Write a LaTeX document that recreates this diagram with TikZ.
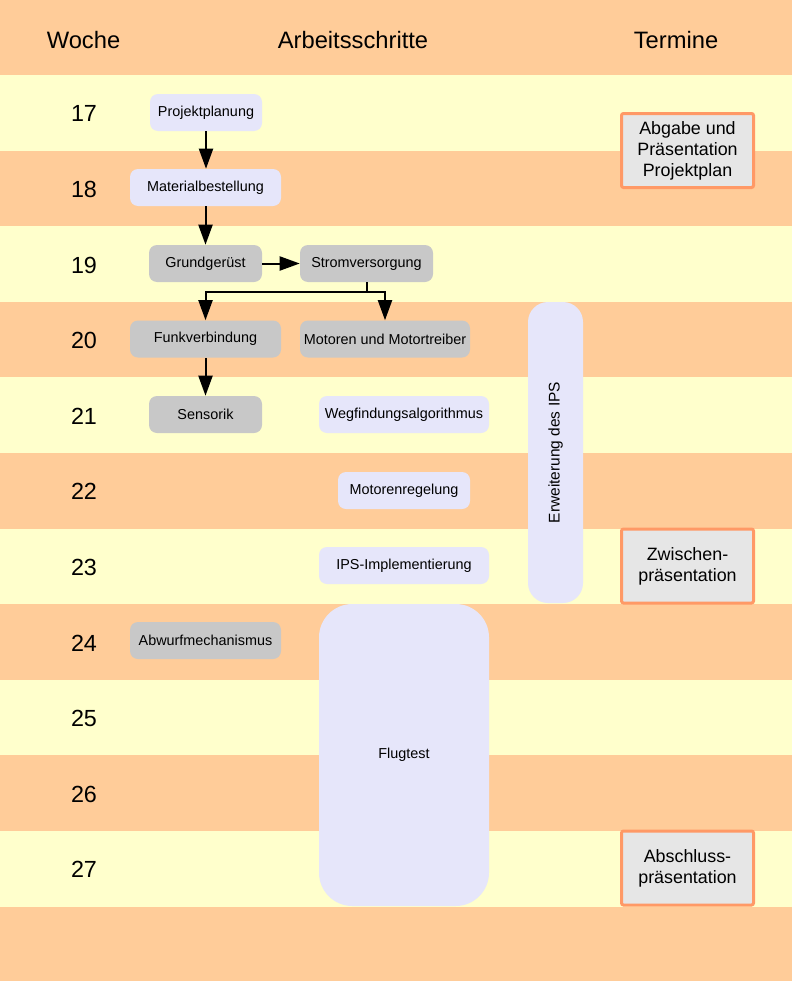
\documentclass[tikz,border=0pt]{standalone}
\usepackage{fontspec}
\setmainfont{Liberation Sans}
\usetikzlibrary{arrows.meta, positioning}
\definecolor{bandorange}{RGB}{255,204,153}
\definecolor{bandyellow}{RGB}{255,255,204}
\definecolor{tasklavender}{RGB}{230,230,250}
\definecolor{taskgray}{RGB}{200,200,200}
\definecolor{termgray}{RGB}{230,230,230}
\definecolor{termborder}{RGB}{255,153,102}

\begin{document}
\begin{tikzpicture}[
    x=0.75pt, y=-0.75pt,
    head/.style={font=\fontsize{17.8}{20}\selectfont},
    week/.style={font=\fontsize{17.5}{20}\selectfont},
    boxw/.style={minimum width=#1*0.75pt},
    box/.style={rounded corners=6pt, minimum height=27.75pt, inner sep=2pt,
                font=\fontsize{10.8}{13}\selectfont},
    openbox/.style={box, fill=tasklavender},
    donebox/.style={box, fill=taskgray},
    termbox/.style={draw=termborder, line width=2.25pt, fill=termgray,
                    rounded corners=1.5pt, minimum width=99pt,
                    minimum height=55.5pt, align=center,
                    font=\fontsize{13.4}{15.75}\selectfont},
    arrow/.style={-{Triangle[length=15pt, width=10.5pt]}, line width=1.5pt},
]

% ── Background bands ───────────────────────────────────────────────────
\fill[bandorange] (0,0) rectangle (792,981);
\useasboundingbox (0,0) rectangle (792,981);
\foreach \i in {0,2,...,10}
    \fill[bandyellow] (0,{75+75.6*\i}) rectangle (792,{75+75.6*(\i+1)});

% ── Header ─────────────────────────────────────────────────────────────
\node[head] (hwoche)   at (83.5,40)  {Woche};
\node[head] (harbeit)  at (353,40) {Arbeitsschritte};
\node[head] (htermine) at (676,40) {Termine};

% ── Week numbers ───────────────────────────────────────────────────────
\foreach \w [count=\i from 0] in {17,...,27}
    \node[week] (w\w) at (84,{75+75.6*\i+38.8}) {\w};

% ── Work steps ─────────────────────────────────────────────────────────
\node[openbox, boxw=112] (plan)    at (206,112.5) {Projektplanung};
\node[openbox, boxw=151] (mat)     at (205.5,187.5) {Materialbestellung};
\node[donebox, boxw=113] (gerust)  at (205.5,263.5) {Grundgerüst};
\node[donebox, boxw=133] (strom)   at (366.5,263.5) {Stromversorgung};
\node[donebox, boxw=151] (funk)    at (205.5,339) {Funkverbindung};
\node[donebox, boxw=170] (motor)   at (385,339) {Motoren und Motortreiber};
\node[donebox, boxw=113] (sensor)  at (205.5,414.5) {Sensorik};
\node[openbox, boxw=170] (weg)     at (404,414.5) {Wegfindungsalgorithmus};
\node[openbox, boxw=132] (regel)   at (404,490.5) {Motorenregelung};
\node[openbox, boxw=170] (ips)     at (404,565.5) {IPS-Implementierung};
\node[donebox, boxw=151] (abwurf)  at (205.5,640.5) {Abwurfmechanismus};

% long tasks
\node[openbox, rotate=90, minimum width=225.75pt, minimum height=41.25pt,
      rounded corners=15pt, font=\fontsize{11.6}{14}\selectfont]
      (erweit) at (555.5,452.5) {Erweiterung des IPS};
\node[openbox, minimum width=127.5pt, minimum height=226.5pt,
      rounded corners=25pt] (flug) at (404,755) {Flugtest};

% ── Dates ──────────────────────────────────────────────────────────────
\node[termbox] (abgabe)   at (687.5,150.5) {Abgabe und\\Präsentation\\ Projektplan};
\node[termbox] (zwischen) at (687.5,566)   {Zwischen-\\präsentation};
\node[termbox] (abschluss) at (687.5,868)  {Abschluss-\\präsentation};

% ── Arrows ─────────────────────────────────────────────────────────────
\draw[arrow] (plan.south)   -- (plan.south |- mat.north);
\draw[arrow] (mat.south)    -- (mat.south |- gerust.north);
\draw[arrow] (gerust.east)  -- (strom.west);
\draw[arrow] (strom.south)  -- ++(0,10) -| (funk.north);
\draw[arrow] (strom.south)  -- ++(0,10) -| (motor.north);
\draw[arrow] (funk.south)   -- (sensor.north);

\end{tikzpicture}
\end{document}
